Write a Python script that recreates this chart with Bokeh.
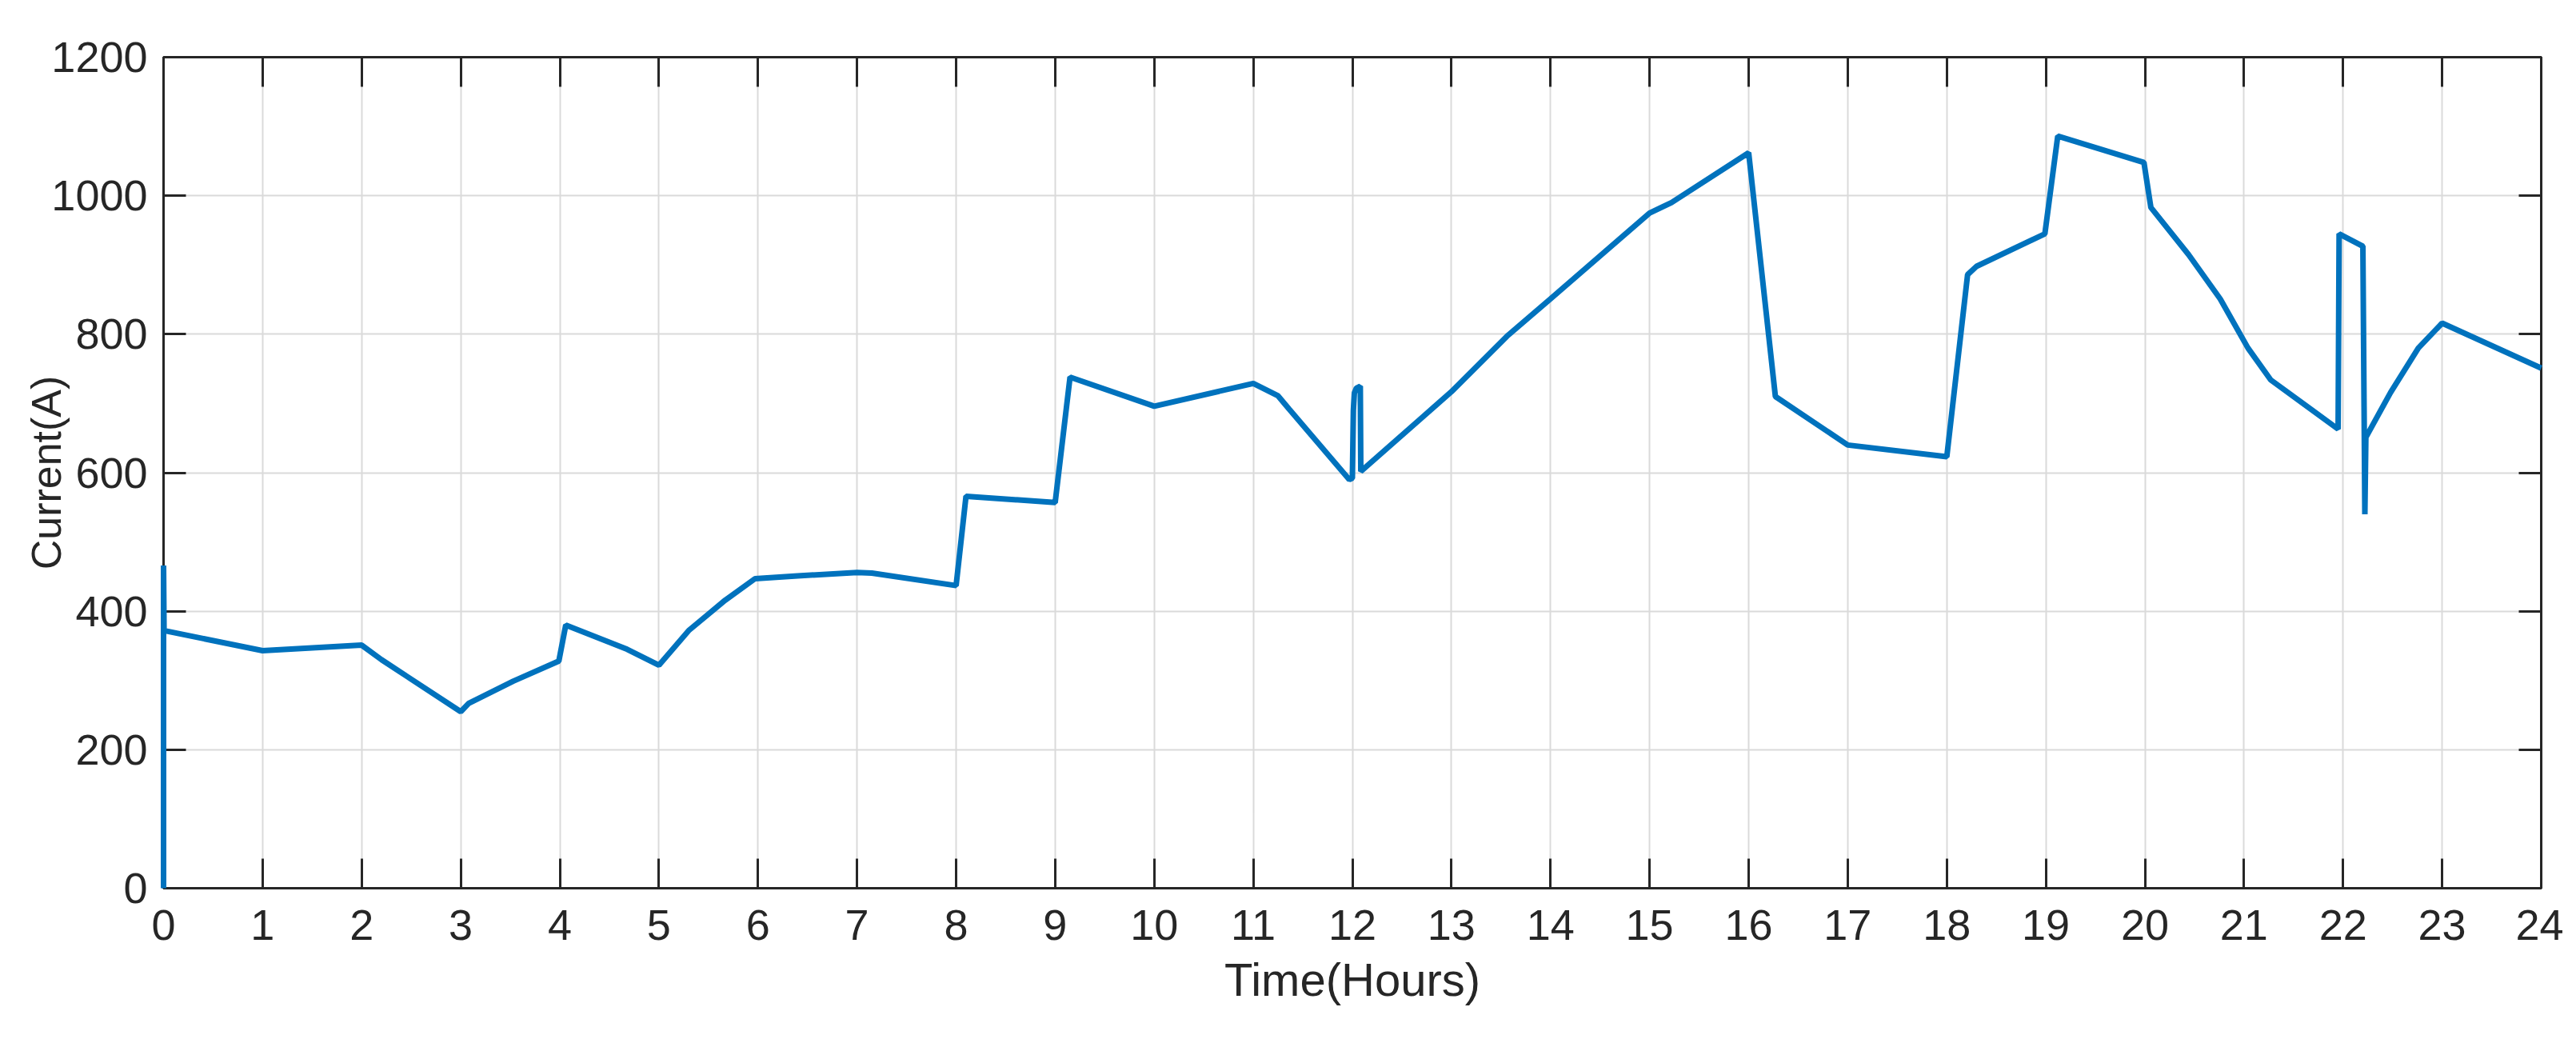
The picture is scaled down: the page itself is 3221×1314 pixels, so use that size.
from bokeh.plotting import figure
from bokeh.models import LinearAxis, FixedTicker, Range1d
from bokeh.embed import file_html
from bokeh.resources import INLINE

# Time (hours) and current (A)
hours = [0.0, 0.0, 0.005, 1.0, 2.0, 2.2, 3.0, 3.08, 3.53, 3.99, 4.06, 4.47, 4.68, 5.0,
         5.3, 5.67, 5.97, 6.4, 7.0, 7.15, 8.0, 8.1, 9.0, 9.15, 10.0, 11.0, 11.25,
         11.36, 11.97, 12.0, 12.01, 12.02, 12.04, 12.08, 12.085, 13.0, 13.56, 14.0,
         15.0, 15.22, 16.0, 16.27, 17.0, 18.0, 18.21, 18.3, 18.99, 19.12, 19.99,
         20.06, 20.44, 20.76, 21.04, 21.27, 21.95, 21.96, 22.2, 22.22, 22.23, 22.48,
         22.76, 23.0, 24.0]
current = [0, 466, 372, 343, 351, 330, 255, 267, 299, 328, 380, 357, 345, 322,
           372, 416, 447, 451, 456, 455, 437, 566, 557, 738, 696, 729, 711,
           692, 590, 592, 690, 715, 722, 725, 602, 717, 797, 851,
           975, 990, 1062, 710, 640, 623, 886, 898, 945, 1086, 1048,
           983, 915, 851, 780, 734, 663, 945, 927, 540, 651, 716,
           780, 816, 751]

x_ticks = list(range(0, 25))
y_ticks = [0, 200, 400, 600, 800, 1000, 1200]

FONT = "Liberation Sans"
TXT = "#262626"

p = figure(width=3205, height=1298, output_backend="svg", toolbar_location=None,
           x_range=Range1d(0, 24), y_range=Range1d(0, 1200),
           min_border_left=204, min_border_right=28, min_border_top=71,
           min_border_bottom=188, background_fill_color="white",
           border_fill_color="white")

p.line(hours, current, line_color="#0072BD", line_width=7, level="overlay")

p.outline_line_color = TXT
p.outline_line_width = 3

p.xaxis.ticker = FixedTicker(ticks=x_ticks)
p.yaxis.ticker = FixedTicker(ticks=y_ticks)
p.xgrid.ticker = FixedTicker(ticks=x_ticks)
p.ygrid.ticker = FixedTicker(ticks=y_ticks)
for g in (p.xgrid, p.ygrid):
    g.grid_line_color = "#dadada"
    g.grid_line_width = 2

for ax in (p.xaxis, p.yaxis):
    ax.axis_line_color = TXT
    ax.axis_line_width = 3
    ax.major_tick_line_color = TXT
    ax.major_tick_line_width = 3
    ax.major_tick_out = 0
    ax.minor_tick_line_color = None
    ax.major_label_text_font = FONT
    ax.major_label_text_font_size = "54px"
    ax.major_label_text_color = TXT
    ax.axis_label_text_font = FONT
    ax.axis_label_text_font_style = "normal"
    ax.axis_label_text_color = TXT

p.xaxis.axis_label = "Time(Hours)"
p.yaxis.axis_label = "Current(A)"
p.xaxis.axis_label_text_font_size = "58px"
p.yaxis.axis_label_text_font_size = "52px"
p.xaxis.major_tick_in = 37
p.yaxis.major_tick_in = 28
p.xaxis.major_label_standoff = 27
p.yaxis.major_label_standoff = 20
p.xaxis.axis_label_standoff = 14
p.yaxis.axis_label_standoff = -26

top = LinearAxis(ticker=FixedTicker(ticks=x_ticks), major_tick_in=37, major_tick_out=0,
                 minor_tick_line_color=None, major_label_text_font_size="1px",
                 major_label_text_color=None,
                 axis_line_color=TXT, axis_line_width=3, major_tick_line_color=TXT,
                 major_tick_line_width=3, major_label_standoff=0)
right = LinearAxis(ticker=FixedTicker(ticks=y_ticks), major_tick_in=28, major_tick_out=0,
                   minor_tick_line_color=None, major_label_text_font_size="1px",
                   major_label_text_color=None,
                   axis_line_color=TXT, axis_line_width=3, major_tick_line_color=TXT,
                   major_tick_line_width=3, major_label_standoff=0)
p.add_layout(top, "above")
p.add_layout(right, "right")

open("out.html", "w").write(file_html(p, INLINE))
